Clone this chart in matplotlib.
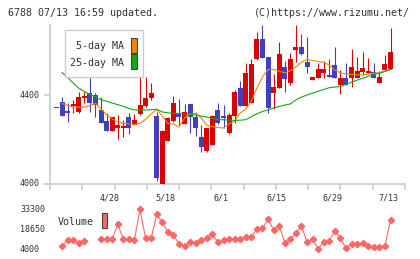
import numpy as np
import matplotlib
matplotlib.use("Agg")
import matplotlib.pyplot as plt
from matplotlib.patches import Rectangle
from matplotlib.transforms import blended_transform_factory

plt.rcParams['font.family'] = ['DejaVu Sans Mono']

# daily candles (61 trading days ending 7/13)
opens = [4340, 4368, 4329, 4352, 4322, 4388, 4409, 4399, 4333, 4283,
         4240, 4253, 4250, 4300, 4265, 4313, 4351, 4385, 4306, 4000,
         4195, 4284, 4320, 4270, 4360, 4300, 4210, 4150, 4175, 4331,
         4306, 4231, 4306, 4431, 4352, 4365, 4562, 4652, 4571, 4410,
         4433, 4526, 4455, 4602, 4616, 4548, 4467, 4478, 4500, 4490,
         4535, 4445, 4476, 4478, 4478, 4503, 4499, 4503, 4454, 4512, 4517]
highs = [4340, 4392, 4365, 4377, 4413, 4413, 4497, 4409, 4391, 4318,
         4301, 4310, 4288, 4318, 4315, 4497, 4481, 4453, 4325, 4243,
         4300, 4395, 4381, 4360, 4360, 4322, 4264, 4252, 4310, 4363,
         4355, 4320, 4422, 4462, 4544, 4560, 4683, 4715, 4571, 4494,
         4638, 4551, 4587, 4715, 4674, 4661, 4481, 4545, 4553, 4562,
         4616, 4512, 4544, 4607, 4571, 4593, 4566, 4544, 4508, 4580, 4701]
lows = [4340, 4305, 4279, 4318, 4318, 4365, 4325, 4300, 4273, 4240,
        4240, 4204, 4210, 4225, 4265, 4310, 4347, 4377, 4015, 4000,
        4195, 4280, 4264, 4270, 4231, 4216, 4145, 4145, 4175, 4270,
        4253, 4225, 4273, 4352, 4352, 4365, 4557, 4568, 4318, 4336,
        4433, 4415, 4444, 4550, 4580, 4500, 4467, 4478, 4478, 4482,
        4478, 4404, 4446, 4436, 4478, 4490, 4499, 4478, 4454, 4512, 4517]
closes = [4340, 4307, 4320, 4361, 4391, 4397, 4365, 4356, 4275, 4240,
          4301, 4265, 4261, 4253, 4288, 4355, 4386, 4409, 4026, 4240,
          4295, 4365, 4300, 4324, 4302, 4253, 4168, 4252, 4306, 4273,
          4295, 4310, 4412, 4352, 4497, 4539, 4652, 4568, 4342, 4436,
          4584, 4473, 4562, 4616, 4584, 4526, 4481, 4517, 4517, 4482,
          4478, 4476, 4446, 4526, 4508, 4521, 4508, 4478, 4481, 4539, 4593]

nan = np.nan
ma5 = [nan, 4362, 4353, 4346, 4345, 4346, 4353, 4362, 4337, 4312,
       4292, 4279, 4273, 4270, 4268, 4273, 4290, 4315, 4335, 4306,
       4272, 4270, 4256, 4297, 4315, 4317, 4297, 4263, 4258, 4254,
       4252, 4270, 4283, 4319, 4337, 4373, 4431, 4481, 4515, 4515,
       4508, 4499, 4510, 4526, 4548, 4560, 4555, 4551, 4547, 4535,
       4512, 4500, 4495, 4493, 4491, 4490, 4494, 4498, 4501, 4508, 4515]
ma25 = [nan, 4501, 4479, 4454, 4431, 4416, 4403, 4391, 4379, 4372,
        4364, 4357, 4349, 4340, 4333, 4333, 4333, 4334, 4336, 4324,
        4320, 4318, 4317, 4316, 4315, 4310, 4305, 4301, 4296, 4290,
        4289, 4287, 4286, 4287, 4289, 4303, 4316, 4326, 4333, 4342,
        4349, 4355, 4360, 4378, 4391, 4400, 4409, 4417, 4425, 4433,
        4436, 4438, 4448, 4458, 4467, 4476, 4484, 4491, 4498, 4506, 4515]

volume = [nan, 5850, 11000, 11000, 8200, 9900, nan, nan, 11380, 11160,
          11380, 22230, 11160, 11160, 10640, 33300, 11900, 11900, 29610, 23700,
          16320, 14330, 7690, 6214, 8945, 8650, 10640, 11900, 15070, 8945,
          10640, 11160, 11600, 11160, 12635, 12635, 18760, 19280, 25920, 18020,
          21200, 8650, 11160, 15590, 20970, 9170, 11380, 4000, 9170, 10125,
          17500, 11900, 4520, 7690, 7690, 8200, 6214, 5700, 5700, 6435, 25400]

date_idx = [10, 20, 30, 40, 50, 60]
date_labels = ["4/28", "5/18", "6/1", "6/15", "6/29", "7/13"]
price_ticks = [4400, 4000]
vol_ticks = [33300, 18650, 4000]

W, H = 420, 259
fig = plt.figure(figsize=(W / 100, H / 100), dpi=100)

def fx(px):
    return px / W

def fy(py):
    return 1 - py / H

grey = "#cccccc"
txt = "#333333"
red = "#dd0000"
blue = "#4040c0"

ax = fig.add_axes([fx(50), fy(184), fx(405) - fx(50), fy(25) - fy(184)])
n = len(opens)
x = np.arange(n)
o = np.array(opens, float)
c = np.array(closes, float)
up = c >= o
cols = np.where(up, red, blue)
body_h = np.maximum(np.abs(c - o), 4.5)
ax.vlines(x, lows, highs, colors=cols, linewidth=0.8, zorder=3)
ax.bar(x, body_h, bottom=np.minimum(o, c), width=0.9, color=cols, linewidth=0, zorder=4)
ax.plot(x, ma5, color="#ee8800", linewidth=0.8, zorder=5)
ax.plot(x, ma25, color="#11aa11", linewidth=0.8, zorder=5)

xl = (-1.17, 62.6)
ax.set_xlim(*xl)
ax.set_ylim(4000, 4715)
for s in ["top", "right"]:
    ax.spines[s].set_visible(False)
for s in ["left", "bottom"]:
    ax.spines[s].set_color(grey)
    ax.spines[s].set_linewidth(1.2)
ax.set_xticks(np.linspace(xl[0], xl[1], 12))
ax.set_xticklabels([])
ax.set_xticks([i - 0.4 for i in date_idx], date_labels, minor=True)
ax.tick_params(axis="x", which="major", length=4, width=1.2, color=grey)
ax.tick_params(axis="x", which="minor", length=0, pad=7, labelsize=6, labelcolor=txt)
ax.set_yticks(price_ticks)
ax.set_yticklabels([])
ax.tick_params(axis="y", length=4, width=1.2, color=grey)
tr = blended_transform_factory(fig.transFigure, ax.transData)
for v in price_ticks:
    ax.text(fx(20), v, str(v), transform=tr, ha="left", va="center",
            fontsize=6, color=txt)

# legend box for moving averages
fig.patches.append(Rectangle((fx(65), fy(77)), fx(143) - fx(65), fy(30) - fy(77),
                             transform=fig.transFigure, facecolor="white",
                             edgecolor=grey, linewidth=1, zorder=0))
fig.text(fx(124), fy(46), "5-day MA", ha="right", va="center", fontsize=7.2, color=txt)
fig.text(fx(124), fy(63), "25-day MA", ha="right", va="center", fontsize=7.2, color=txt)
fig.patches.append(Rectangle((fx(131), fy(53)), fx(6), 15 / H, transform=fig.transFigure,
                             facecolor="#ee8800", edgecolor="#444444", linewidth=0.8))
fig.patches.append(Rectangle((fx(131), fy(69)), fx(6), 15 / H, transform=fig.transFigure,
                             facecolor="#11aa11", edgecolor="#444444", linewidth=0.8))

# volume panel
vax = fig.add_axes([fx(50), fy(249), fx(405) - fx(50), fy(209.3) - fy(249)])
vax.plot(x, volume, color="#ff6666", linewidth=0.8, marker="D", markersize=3.2,
         clip_on=False)
vax.set_xlim(*xl)
vax.set_ylim(4000, 33300)
vax.axis("off")
vtr = blended_transform_factory(fig.transFigure, vax.transData)
for v in vol_ticks:
    vax.text(fx(20), v, str(v), transform=vtr, ha="left", va="center",
             fontsize=6, color=txt)
fig.text(fx(58), fy(222), "Volume", ha="left", va="center", fontsize=7.2, color=txt)
fig.patches.append(Rectangle((fx(101.5), fy(228)), fx(6), 15 / H, transform=fig.transFigure,
                             facecolor="#ff6666", edgecolor="#444444", linewidth=0.8))

fig.text(fx(8), fy(12.5), "6788 07/13 16:59 updated.", ha="left", va="center",
         fontsize=7.2, color=txt)
fig.text(fx(410), fy(12.5), "(C)https://www.rizumu.net/", ha="right", va="center",
         fontsize=7.2, color=txt)

fig.savefig("out.png", dpi=100)
